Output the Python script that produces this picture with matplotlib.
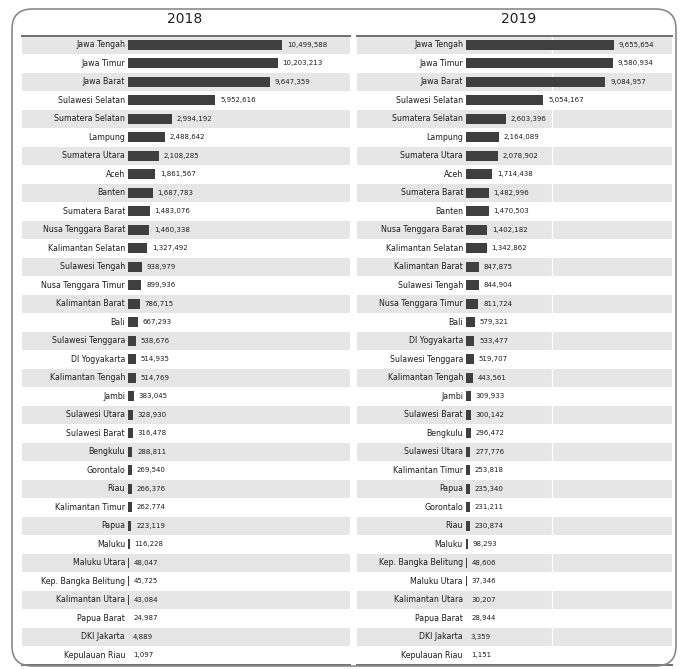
import matplotlib.pyplot as plt
from matplotlib.patches import FancyBboxPatch
from matplotlib import font_manager

# Data
prov_2018 = ['Jawa Tengah', 'Jawa Timur', 'Jawa Barat', 'Sulawesi Selatan', 'Sumatera Selatan',
             'Lampung', 'Sumatera Utara', 'Aceh', 'Banten', 'Sumatera Barat',
             'Nusa Tenggara Barat', 'Kalimantan Selatan', 'Sulawesi Tengah', 'Nusa Tenggara Timur',
             'Kalimantan Barat', 'Bali', 'Sulawesi Tenggara', 'DI Yogyakarta', 'Kalimantan Tengah',
             'Jambi', 'Sulawesi Utara', 'Sulawesi Barat', 'Bengkulu', 'Gorontalo', 'Riau',
             'Kalimantan Timur', 'Papua', 'Maluku', 'Maluku Utara', 'Kep. Bangka Belitung',
             'Kalimantan Utara', 'Papua Barat', 'DKI Jakarta', 'Kepulauan Riau']
val_2018 = [10499588, 10203213, 9647359, 5952616, 2994192, 2488642, 2108285, 1861567, 1687783,
            1483076, 1460338, 1327492, 938979, 899936, 786715, 667293, 538676, 514935, 514769,
            383045, 328930, 316478, 288811, 269540, 266376, 262774, 223119, 116228, 48047,
            45725, 43084, 24987, 4889, 1097]

prov_2019 = ['Jawa Tengah', 'Jawa Timur', 'Jawa Barat', 'Sulawesi Selatan', 'Sumatera Selatan',
             'Lampung', 'Sumatera Utara', 'Aceh', 'Sumatera Barat', 'Banten',
             'Nusa Tenggara Barat', 'Kalimantan Selatan', 'Kalimantan Barat', 'Sulawesi Tengah',
             'Nusa Tenggara Timur', 'Bali', 'DI Yogyakarta', 'Sulawesi Tenggara', 'Kalimantan Tengah',
             'Jambi', 'Sulawesi Barat', 'Bengkulu', 'Sulawesi Utara', 'Kalimantan Timur', 'Papua',
             'Gorontalo', 'Riau', 'Maluku', 'Kep. Bangka Belitung', 'Maluku Utara',
             'Kalimantan Utara', 'Papua Barat', 'DKI Jakarta', 'Kepulauan Riau']
val_2019 = [9655654, 9580934, 9084957, 5054167, 2603396, 2164089, 2078902, 1714438, 1482996,
            1470503, 1402182, 1342862, 847875, 844904, 811724, 579321, 533477, 519707, 443561,
            309933, 300142, 296472, 277776, 253818, 235340, 231211, 230874, 98293, 48606,
            37346, 30207, 28944, 3359, 1151]

names = {f.name for f in font_manager.fontManager.ttflist}
fam = 'Liberation Sans Narrow' if 'Liberation Sans Narrow' in names else 'DejaVu Sans'
plt.rcParams['font.family'] = [fam, 'DejaVu Sans']

W, H = 681, 669
fig = plt.figure(figsize=(W / 100, H / 100), dpi=100)

# rounded frame
frame = FancyBboxPatch((12 / W, 3 / H), 664 / W, 657 / H,
                       boxstyle='round,pad=0,rounding_size=0.03',
                       transform=fig.transFigure, fc='none', ec='#8a8a8a', lw=1.2)
fig.patches.append(frame)

bar_color = '#3f3f3f'
band_color = '#e6e6e6'
top_px, bot_px = 35.5, 664.5


def panel(x0, x1, start, scale, title, provs, vals, title_x, vline=None):
    ax = fig.add_axes([x0 / W, (H - bot_px) / H, (x1 - x0) / W, (bot_px - top_px) / H])
    n = len(provs)
    ys = list(range(n))
    for i in ys:
        if i % 2 == 0:
            ax.axhspan(i - 0.5, i + 0.5, color=band_color, lw=0, zorder=0)
    ax.barh(ys, vals, height=0.55, color=bar_color, zorder=2)
    xmin = -(start - x0) / scale * 1e6
    xmax = (x1 - start) / scale * 1e6
    off = 3 / scale * 1e6
    for y, p, v in zip(ys, provs, vals):
        ax.text(-off, y, p, ha='right', va='center', fontsize=5.7, color='#1e1e1e', zorder=3)
        ax.text(v + 1.6 * off, y, f'{v:,}', ha='left', va='center', fontsize=5.0,
                color='#1e1e1e', zorder=3)
    if vline is not None:
        ax.axvline(vline, color='white', lw=1.0, zorder=1)
    ax.set_xlim(xmin, xmax)
    ax.set_ylim(n - 0.5, -0.5)
    ax.set_xticks([])
    ax.set_yticks([])
    for s in ['left', 'right']:
        ax.spines[s].set_visible(False)
    ax.spines['top'].set_color('#6e6e6e')
    ax.spines['top'].set_linewidth(1.4)
    ax.spines['bottom'].set_color('#6e6e6e')
    ax.spines['bottom'].set_linewidth(1.4)
    ax.patch.set_alpha(0)
    fig.text(title_x / W, 1 - 19 / H, title, ha='center', va='center', fontsize=10,
             color='#222222')
    return ax


panel(22, 350, 128, 14.67, '2018', prov_2018, val_2018, 185)
panel(357, 672, 466, 15.33, '2019', prov_2019, val_2019, 519, vline=5.6e6)

fig.savefig('out.png', dpi=100)
